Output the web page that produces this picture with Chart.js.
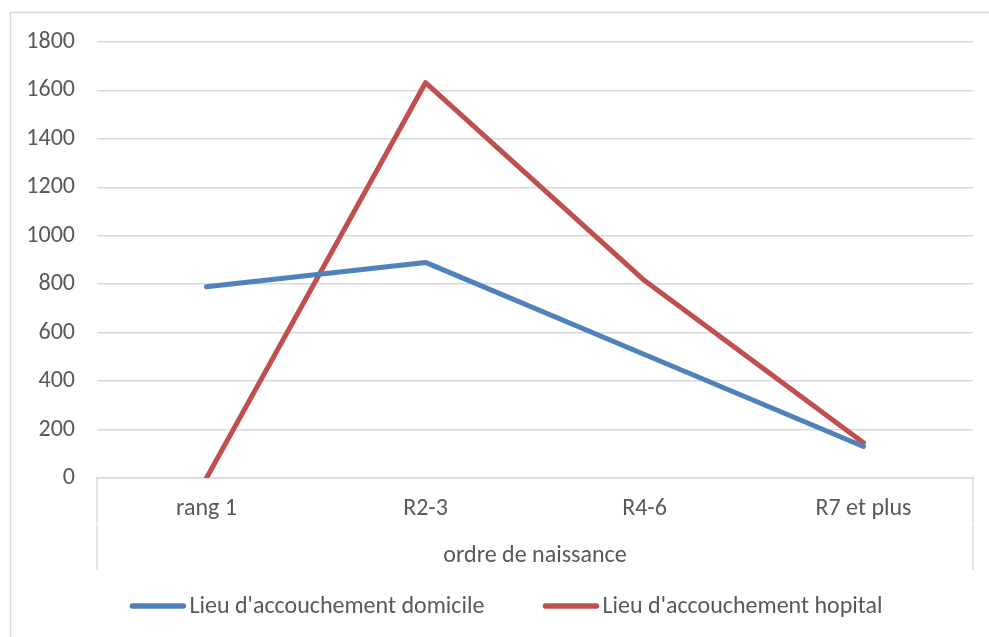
<!DOCTYPE html>
<html>
<head>
<meta charset="utf-8">
<script src="https://cdn.jsdelivr.net/npm/chart.js@4.4.1/dist/chart.umd.min.js"></script>
<style>
  html, body { margin: 0; padding: 0; background: #ffffff; }
  #wrap { width: 989px; height: 637px; position: relative; }
</style>
</head>
<body>
<div id="wrap"><canvas id="c" width="989" height="637"></canvas></div>
<script>
// Births by birth order, split by place of delivery
const categories = ['rang 1', 'R2-3', 'R4-6', 'R7 et plus'];
const domicile = [790, 890, 510, 130];
const hopital = [0, 1632, 815, 146];
const seriesNames = ["Lieu d'accouchement domicile", "Lieu d'accouchement hopital"];
const axisTitle = 'ordre de naissance';
const yRange = [0, 1800];
const yStep = 200;

const FONT = "Carlito, Lato, 'Noto Sans', sans-serif";
const FSIZE = 24;
const TEXT = '#595959';
const GRID = '#d9d9d9';
const BLUE = '#4f81bd';
const RED = '#c0504d';

// Frame, category box and bottom legend, drawn on the canvas
const decorations = {
  id: 'decorations',
  afterDraw(chart) {
    const ctx = chart.ctx;
    const a = chart.chartArea;
    ctx.save();
    // outer chart frame
    ctx.strokeStyle = GRID;
    ctx.lineWidth = 1.5;
    ctx.beginPath();
    ctx.moveTo(10.5, 700);
    ctx.lineTo(10.5, 12.5);
    ctx.lineTo(1100, 12.5);
    ctx.stroke();

    // category axis box sides (label level and title level)
    const boxBottom = a.bottom + 92;
    const split = a.bottom + 46;
    ctx.strokeStyle = '#dcdcdc';
    ctx.beginPath();
    [a.left, a.right].forEach(x => {
      ctx.moveTo(x, a.bottom);
      ctx.lineTo(x, split);
      ctx.moveTo(x, split + 1);
      ctx.lineTo(x, boxBottom);
    });
    ctx.stroke();

    // legend
    ctx.font = FSIZE + 'px ' + FONT;
    ctx.textBaseline = 'middle';
    ctx.textAlign = 'left';
    const sample = 57, gapText = 3, gapItem = 58;
    const ds = chart.data.datasets;
    const widths = ds.map(d => sample + gapText + ctx.measureText(d.label).width);
    const total = widths.reduce((s, w) => s + w, 0) + gapItem * (ds.length - 1);
    let x = 506 - total / 2;
    const y = 606;
    ds.forEach((d, i) => {
      ctx.strokeStyle = d.borderColor;
      ctx.lineWidth = 5.5;
      ctx.lineCap = 'round';
      ctx.beginPath();
      ctx.moveTo(x + 3, y);
      ctx.lineTo(x + sample - 3, y);
      ctx.stroke();
      ctx.fillStyle = TEXT;
      ctx.fillText(d.label, x + sample + gapText, y + 1);
      x += widths[i] + gapItem;
    });
    ctx.restore();
  }
};

new Chart(document.getElementById('c'), {
  type: 'line',
  data: {
    labels: categories,
    datasets: [
      { label: seriesNames[0], data: domicile, borderColor: BLUE, backgroundColor: BLUE },
      { label: seriesNames[1], data: hopital, borderColor: RED, backgroundColor: RED }
    ]
  },
  options: {
    responsive: false,
    animation: false,
    events: [],
    elements: {
      line: { borderWidth: 5, tension: 0, borderCapStyle: 'round', borderJoinStyle: 'round' },
      point: { radius: 0, hoverRadius: 0 }
    },
    layout: { padding: { left: 0, top: 42, right: 16, bottom: 49 } },
    plugins: {
      legend: { display: false },
      tooltip: { enabled: false }
    },
    scales: {
      x: {
        offset: true,
        afterFit(s) { s.height = 110; },
        grid: { display: false, drawTicks: false },
        border: { display: true, color: GRID, width: 1.5 },
        ticks: { color: TEXT, font: { family: FONT, size: FSIZE }, padding: 17, maxRotation: 0 },
        title: {
          display: true, text: axisTitle, color: TEXT,
          font: { family: FONT, size: FSIZE }, padding: { top: 0, bottom: 18 }
        }
      },
      y: {
        min: yRange[0],
        max: yRange[1],
        afterFit(s) { s.width = 97; },
        grid: { color: GRID, lineWidth: 1.5, drawTicks: false },
        border: { display: false },
        ticks: {
          stepSize: yStep, color: TEXT, font: { family: FONT, size: FSIZE }, padding: 22,
          callback: v => String(v)
        }
      }
    }
  },
  plugins: [decorations]
});
</script>
</body>
</html>
